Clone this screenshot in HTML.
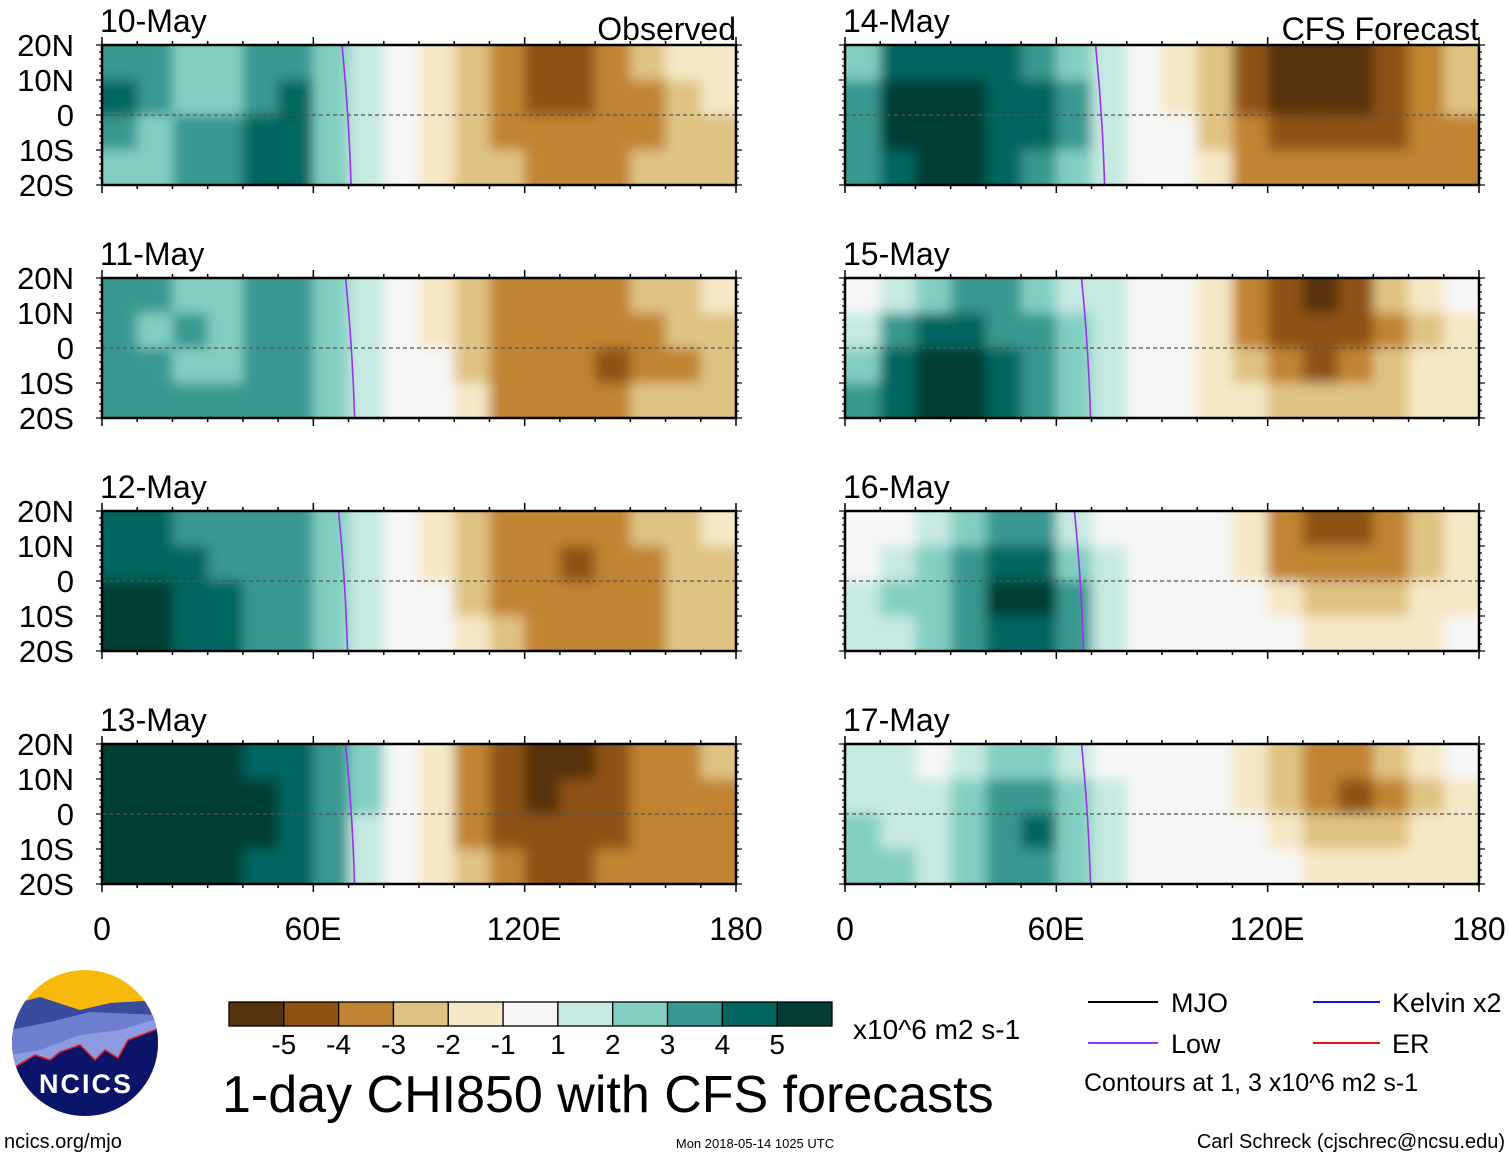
<!DOCTYPE html>
<html><head><meta charset="utf-8"><title>1-day CHI850 with CFS forecasts</title>
<style>
html,body{margin:0;padding:0;background:#fff;}
svg{display:block;font-family:"Liberation Sans",sans-serif;}
</style></head>
<body>
<svg id="chart" width="1510" height="1158" viewBox="0 0 1510 1158" xmlns="http://www.w3.org/2000/svg">
<defs>
<filter id="blur" filterUnits="userSpaceOnUse" x="0" y="0" width="1510" height="1000"><feGaussianBlur stdDeviation="6"/></filter>
</defs>
<g id="panels"></g>

<g font-size="32" text-anchor="middle">
<text x="102" y="940">0</text><text x="313" y="940">60E</text><text x="524" y="940">120E</text><text x="736" y="940">180</text>
<text x="845" y="940">0</text><text x="1056" y="940">60E</text><text x="1267" y="940">120E</text><text x="1479" y="940">180</text>
</g>

<g>
<clipPath id="lc"><circle cx="85" cy="1043" r="73"/></clipPath>
<g clip-path="url(#lc)">
<rect x="10" y="968" width="150" height="150" fill="#f7b90c"/>
<path d="M10 1005 L40 997 L80 1010 L110 1003 L160 1000 L160 1118 L10 1118Z" fill="#3b4a9c"/>
<path d="M10 1030 L50 1022 L90 1012 L160 1015 L160 1118 L10 1118Z" fill="#6f7fd0"/>
<path d="M10 1055 L40 1050 L80 1035 L120 1030 L160 1018 L160 1118 L10 1118Z" fill="#8e9be0"/>
<path d="M10 1070 L35 1055 L50 1060 L60 1052 L80 1045 L95 1060 L105 1050 L118 1058 L128 1040 L160 1028 L160 1118 L10 1118Z" fill="#0c1469" stroke="#e02020" stroke-width="1.5"/>
</g>
<text x="86" y="1093" font-size="27" font-weight="bold" fill="#fff" text-anchor="middle" letter-spacing="2">NCICS</text>
</g>
<text x="4" y="1148" font-size="20">ncics.org/mjo</text>

<g id="colorbar"></g>
<text x="853" y="1039" font-size="28">x10^6 m2 s-1</text>
<text x="222" y="1112" font-size="52">1-day CHI850 with CFS forecasts</text>
<text x="755" y="1148" font-size="13" text-anchor="middle">Mon 2018-05-14 1025 UTC</text>

<g font-size="27">
<g><line x1="1088" y1="1002" x2="1158" y2="1002" stroke="#000" stroke-width="2"/><text x="1171" y="1012">MJO</text></g>
<g><line x1="1313" y1="1002" x2="1380" y2="1002" stroke="#1515e6" stroke-width="2"/><text x="1392" y="1012">Kelvin x2</text></g>
<g><line x1="1088" y1="1043" x2="1158" y2="1043" stroke="#9933ee" stroke-width="2"/><text x="1171" y="1053">Low</text></g>
<g><line x1="1313" y1="1043" x2="1380" y2="1043" stroke="#ee1111" stroke-width="2"/><text x="1392" y="1053">ER</text></g>
<text x="1084" y="1091" font-size="25">Contours at 1, 3 x10^6 m2 s-1</text>
</g>
<text x="1505" y="1148" font-size="20" text-anchor="end">Carl Schreck (cjschrec@ncsu.edu)</text>
</svg>
<script>
// ---- data ----
const panelDates = ["10-May","11-May","12-May","13-May","14-May","15-May","16-May","17-May"];
const lonBins = [5,15,25,35,45,55,65,75,85,95,105,115,125,135,145,155,165,175];
const latBands = ["20N-10N","10N-0","0-10S","10S-20S"];
const levelBounds = [-5,-4,-3,-2,-1,1,2,3,4,5];
const levelColors = ["#56330e","#8d5312","#c08433","#dfc383","#f5e8c6","#f6f6f6","#c6e9e2","#82cfc1","#389890","#03665e","#033d33"];
const lowLon = [69,70,68,70,72,68,66,68];
const chi0 = [
[3.5,3.5,2.5,2.5,3.5,3.5,2.5,1.5,0,-1.5,-2.5,-3.5,-4.5,-4.5,-3.5,-2.5,-1.5,-1.5],
[4.5,3.5,2.5,2.5,3.5,4.5,2.5,1.5,0,-1.5,-2.5,-3.5,-4.5,-4.5,-3.5,-3.5,-2.5,-1.5],
[3.5,2.5,3.5,3.5,4.5,4.5,2.5,1.5,0,-1.5,-2.5,-3.5,-3.5,-3.5,-3.5,-3.5,-2.5,-2.5],
[2.5,2.5,3.5,3.5,4.5,4.5,2.5,1.5,0,-1.5,-2.5,-2.5,-3.5,-3.5,-3.5,-2.5,-2.5,-2.5]];
const chi1 = [
[3.5,3.5,2.5,2.5,3.5,3.5,2.5,1.5,0,-1.5,-2.5,-3.5,-3.5,-3.5,-3.5,-2.5,-2.5,-1.5],
[3.5,2.5,3.5,2.5,3.5,3.5,2.5,1.5,0,-1.5,-2.5,-3.5,-3.5,-3.5,-3.5,-3.5,-2.5,-2.5],
[3.5,3.5,2.5,2.5,3.5,3.5,2.5,1.5,0,0,-2.5,-3.5,-3.5,-3.5,-4.5,-3.5,-3.5,-2.5],
[3.5,3.5,3.5,3.5,3.5,3.5,2.5,1.5,0,0,-1.5,-3.5,-3.5,-3.5,-3.5,-2.5,-2.5,-2.5]];
const chi2 = [
[4.5,4.5,3.5,3.5,3.5,3.5,2.5,1.5,0,-1.5,-2.5,-3.5,-3.5,-3.5,-3.5,-2.5,-2.5,-1.5],
[4.5,4.5,4.5,3.5,3.5,3.5,2.5,1.5,0,-1.5,-2.5,-3.5,-3.5,-4.5,-3.5,-3.5,-2.5,-2.5],
[5.5,5.5,4.5,4.5,3.5,3.5,2.5,1.5,0,0,-2.5,-3.5,-3.5,-3.5,-3.5,-3.5,-2.5,-2.5],
[5.5,5.5,4.5,4.5,3.5,3.5,2.5,1.5,0,0,-1.5,-2.5,-3.5,-3.5,-3.5,-3.5,-2.5,-2.5]];
const chi3 = [
[5.5,5.5,5.5,5.5,4.5,4.5,3.5,2.5,0,-1.5,-3.5,-4.5,-5.5,-5.5,-4.5,-3.5,-3.5,-2.5],
[5.5,5.5,5.5,5.5,5.5,4.5,3.5,2.5,0,-1.5,-3.5,-4.5,-5.5,-4.5,-4.5,-3.5,-3.5,-3.5],
[5.5,5.5,5.5,5.5,5.5,4.5,3.5,1.5,0,-1.5,-3.5,-4.5,-4.5,-4.5,-4.5,-3.5,-3.5,-3.5],
[5.5,5.5,5.5,5.5,4.5,4.5,3.5,1.5,0,-1.5,-2.5,-3.5,-4.5,-4.5,-3.5,-3.5,-3.5,-3.5]];
const chi4 = [
[2.5,4.5,4.5,4.5,4.5,3.5,2.5,1.5,0,-1.5,-2.5,-4.5,-5.5,-5.5,-5.5,-4.5,-3.5,-2.5],
[3.5,5.5,5.5,5.5,4.5,4.5,3.5,1.5,0,-1.5,-2.5,-4.5,-5.5,-5.5,-5.5,-4.5,-3.5,-2.5],
[3.5,5.5,5.5,5.5,4.5,4.5,3.5,1.5,0,0,-2.5,-3.5,-4.5,-4.5,-4.5,-4.5,-3.5,-3.5],
[3.5,4.5,5.5,5.5,4.5,3.5,2.5,1.5,0,0,-1.5,-3.5,-3.5,-3.5,-3.5,-3.5,-3.5,-3.5]];
const chi5 = [
[0,1.5,2.5,3.5,3.5,2.5,1.5,1.5,0,0,-1.5,-3.5,-4.5,-5.5,-4.5,-2.5,-1.5,0],
[1.5,3.5,4.5,4.5,3.5,3.5,2.5,1.5,0,0,-1.5,-3.5,-4.5,-4.5,-4.5,-3.5,-2.5,-1.5],
[2.5,4.5,5.5,5.5,4.5,3.5,2.5,1.5,0,0,-1.5,-2.5,-3.5,-4.5,-3.5,-2.5,-1.5,-1.5],
[3.5,4.5,5.5,5.5,4.5,3.5,2.5,1.5,0,0,-1.5,-1.5,-2.5,-2.5,-2.5,-2.5,-1.5,-1.5]];
const chi6 = [
[0,0,1.5,2.5,3.5,3.5,1.5,0,0,0,0,-1.5,-3.5,-4.5,-4.5,-3.5,-2.5,-1.5],
[0,1.5,2.5,3.5,4.5,4.5,2.5,1.5,0,0,0,-1.5,-3.5,-3.5,-3.5,-3.5,-2.5,-1.5],
[1.5,2.5,2.5,3.5,5.5,5.5,3.5,1.5,0,0,0,0,-1.5,-2.5,-2.5,-2.5,-1.5,-1.5],
[1.5,1.5,2.5,3.5,4.5,4.5,3.5,1.5,0,0,0,0,0,-1.5,-1.5,-1.5,-1.5,0]];
const chi7 = [
[1.5,1.5,0,1.5,2.5,2.5,1.5,0,0,0,0,-1.5,-2.5,-3.5,-3.5,-2.5,-1.5,0],
[1.5,1.5,1.5,2.5,3.5,3.5,2.5,1.5,0,0,0,-1.5,-2.5,-3.5,-4.5,-3.5,-2.5,-1.5],
[2.5,1.5,1.5,2.5,3.5,4.5,2.5,1.5,0,0,0,0,-1.5,-2.5,-2.5,-2.5,-1.5,-1.5],
[2.5,2.5,1.5,2.5,3.5,3.5,2.5,1.5,0,0,0,0,0,-1.5,-1.5,-1.5,-1.5,-1.5]];
const chiAll = [chi0,chi1,chi2,chi3,chi4,chi5,chi6,chi7];
const yTickLabels = ["20N","10N","0","10S","20S"];
const cbTickLabels = ["-5","-4","-3","-2","-1","1","2","3","4","5"];

// ---- drawing ----
const NS = "http://www.w3.org/2000/svg";
function mk(tag, attrs, parent){const e=document.createElementNS(NS,tag);for(const k in attrs)e.setAttribute(k,attrs[k]);if(parent)parent.appendChild(e);return e;}
function colorFor(v){let i=0;while(i<levelBounds.length && v>levelBounds[i])i++;return levelColors[i];}
const PW=634, PH=140, lefts=[102,845], tops=[45,278,511,744];
function xScale(lon,x0){return x0+lon/180*PW;}
function yScale(lat,y0){return y0+(20-lat)/40*PH;}
const root=document.getElementById("panels");
panelDates.forEach((d,p)=>{
  const col=p<4?0:1, row=p%4, x0=lefts[col], y0=tops[row];
  const g=mk("g",{},root);
  
  
  const cid="clip"+p;
  const cp=mk("clipPath",{id:cid},g); mk("rect",{x:x0,y:y0,width:PW,height:PH},cp);
  const cg=mk("g",{"clip-path":"url(#"+cid+")"},g);
  const fg=mk("g",{filter:"url(#blur)"},cg);
  const data=chiAll[p];
  data.forEach((rowVals,r)=>{
    rowVals.forEach((v,c)=>{
      const lonA=lonBins[c]-5, lonB=lonBins[c]+5;
      const latTop=20-r*10;
      const xa=xScale(lonA,x0)-(c===0?15:0), xb=xScale(lonB,x0)+(c===lonBins.length-1?15:0);
      const ya=yScale(latTop,y0)-(r===0?15:0), yb=yScale(latTop-10,y0)+(r===latBands.length-1?15:0);
      const cell=mk("rect",{x:xa,y:ya,width:xb-xa+0.5,height:yb-ya+0.5,fill:colorFor(v)},fg);
      
      
    });
  });
  const eq=mk("line",{x1:x0,x2:x0+PW,y1:yScale(0,y0),y2:yScale(0,y0),stroke:"#555","stroke-width":1.2,"stroke-dasharray":"4,3"},cg);
  
  
  const lx=xScale(lowLon[p],x0);
  const low=mk("path",{d:`M${lx-3} ${y0} Q${lx+4} ${y0+PH*0.5} ${lx+6} ${y0+PH}`,stroke:"#9933ee","stroke-width":1.6,fill:"none"},cg);
  
  
  const fr=mk("rect",{x:x0,y:y0,width:PW,height:PH,fill:"none",stroke:"#000","stroke-width":2.5},g);
  
  
  for(let lon=0;lon<=180;lon+=10){
    const x=xScale(lon,x0), len=lon%60===0?8:4;
    mk("line",{x1:x,x2:x,y1:y0,y2:y0-len,stroke:"#000","stroke-width":1.5},g);
    mk("line",{x1:x,x2:x,y1:y0+PH,y2:y0+PH+len,stroke:"#000","stroke-width":1.5},g);
  }
  for(let lat=-20;lat<=20;lat+=2){
    const y=yScale(lat,y0), len=lat%10===0?6:3;
    mk("line",{x1:x0,x2:x0-len,y1:y,y2:y,stroke:"#000","stroke-width":1.2},g);
    mk("line",{x1:x0+PW,x2:x0+PW+len,y1:y,y2:y,stroke:"#000","stroke-width":1.2},g);
  }
  if(col===0){
    yTickLabels.forEach((t,i)=>{
      const yl=mk("text",{x:74,y:y0+i*PH/4+11,"font-size":31,"text-anchor":"end"},g);
      yl.textContent=t;
      
      
    });
  }
  const tt=mk("text",{x:x0-2,y:y0-13,"font-size":32},g); tt.textContent=d;
  
  
  if(row===0){
    const st=mk("text",{x:x0+PW,y:y0-5,"font-size":32,"text-anchor":"end"},g);
    st.textContent=col===0?"Observed":"CFS Forecast";
    
    
  }
});
const cb=document.getElementById("colorbar");
const cbX=229, cbW=603/levelColors.length;
levelColors.forEach((c,i)=>{
  const r=mk("rect",{x:cbX+i*cbW,y:1002,width:cbW,height:24,fill:c,stroke:"#000","stroke-width":1.3},cb);
  
  
});
cbTickLabels.forEach((t,i)=>{
  const tx=mk("text",{x:cbX+(i+1)*cbW,y:1054,"font-size":28,"text-anchor":"middle"},cb);
  tx.textContent=t;
  
  
});
</script>
</body></html>
